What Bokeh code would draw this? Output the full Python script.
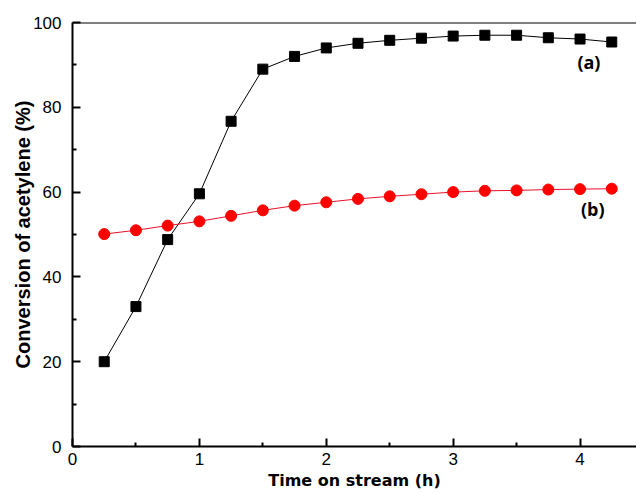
from bokeh.plotting import figure
from bokeh.models import Range1d, FixedTicker, Label, Span
from bokeh.embed import file_html
from bokeh.resources import INLINE

time_h = [0.25, 0.5, 0.75, 1.0, 1.25, 1.5, 1.75, 2.0, 2.25, 2.5, 2.75, 3.0, 3.25, 3.5, 3.75, 4.0, 4.25]
conv_a = [20.0, 33.0, 48.8, 59.6, 76.7, 89.0, 92.0, 94.0, 95.1, 95.8, 96.3, 96.8, 97.0, 97.0, 96.4, 96.1, 95.4]
conv_b = [50.1, 51.0, 52.1, 53.1, 54.4, 55.7, 56.8, 57.6, 58.4, 59.0, 59.5, 60.0, 60.3, 60.4, 60.6, 60.7, 60.8]
x_ticks = [0, 1, 2, 3, 4]
y_ticks = [0, 20, 40, 60, 80, 100]

p = figure(width=636, height=492, output_backend="svg", toolbar_location=None,
           x_range=Range1d(0, 4.445), y_range=Range1d(0, 100),
           min_border_left=72, min_border_right=0, min_border_top=22, min_border_bottom=46)
p.grid.visible = False
p.outline_line_color = None
p.background_fill_color = "white"
p.border_fill_color = "white"

for ax in (p.xaxis[0], p.yaxis[0]):
    ax.axis_line_width = 2
    ax.major_tick_line_width = 2
    ax.minor_tick_line_width = 2
    ax.major_tick_in = 8
    ax.major_tick_out = 0
    ax.minor_tick_in = 4
    ax.minor_tick_out = 0
    ax.major_label_text_font = "Liberation Sans"
    ax.major_label_text_font_size = "17px"
    ax.major_label_text_color = "black"
    ax.axis_label_text_font_style = "bold"
    ax.axis_label_text_color = "black"

p.xaxis.ticker = FixedTicker(ticks=x_ticks, minor_ticks=[0.5, 1.5, 2.5, 3.5])
p.yaxis.ticker = FixedTicker(ticks=y_ticks, minor_ticks=[10, 30, 50, 70, 90])
p.xaxis.major_label_standoff = 6
p.yaxis.major_label_standoff = 11
p.xaxis.axis_label = "Time on stream (h)"
p.xaxis.axis_label_text_font = "DejaVu Sans"
p.xaxis.axis_label_text_font_size = "16px"
p.xaxis.axis_label_standoff = 3
p.yaxis.axis_label = "Conversion of acetylene (%)"
p.yaxis.axis_label_text_font = "Liberation Sans"
p.yaxis.axis_label_text_font_size = "20px"
p.yaxis.axis_label_standoff = -4

p.add_layout(Span(location=100, dimension="width", line_color="black", line_width=2))

p.line(time_h, conv_a, line_color="black", line_width=1)
p.scatter(time_h, conv_a, marker="square", size=10, fill_color="black", line_color="black")
p.line(time_h, conv_b, line_color="#e8102a", line_width=1)
p.scatter(time_h, conv_b, marker="circle", size=11, fill_color="#ff0000", line_color="#ff0000")

p.add_layout(Label(x=4.07, y=90.7, text="(a)", text_font="Open Sans", text_font_style="bold",
                   text_color="black", text_font_size="18px", text_align="center",
                   text_baseline="middle"))
p.add_layout(Label(x=4.10, y=56.1, text="(b)", text_font="Open Sans", text_font_style="bold",
                   text_color="black", text_font_size="18px", text_align="center",
                   text_baseline="middle"))

open("out.html", "w").write(file_html(p, INLINE))
